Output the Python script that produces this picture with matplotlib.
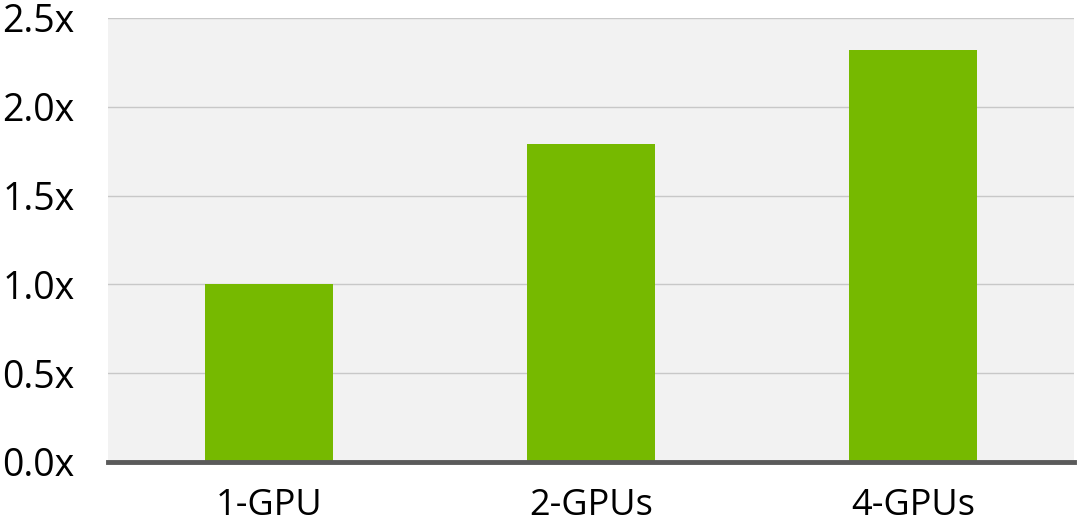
import matplotlib
matplotlib.use("Agg")
import matplotlib.pyplot as plt
from matplotlib.ticker import FuncFormatter

categories = ["1-GPU", "2-GPUs", "4-GPUs"]
speedup = [1.0, 1.79, 2.32]
yticks = [0.0, 0.5, 1.0, 1.5, 2.0, 2.5]

plt.rcParams['font.family'] = ['Open Sans', 'DejaVu Sans']

fig = plt.figure(figsize=(10.8, 5.29), dpi=100)
ax = fig.add_axes([0.1, 0.1267, 0.8944, 0.8393])
ax.set_facecolor('#f2f2f2')

x = list(range(len(categories)))
ax.bar(x, speedup, width=0.4, color='#76b900', zorder=3)

ax.set_xlim(-0.5, 2.5)
ax.set_ylim(0, 2.5)
ax.set_yticks(yticks)
ax.yaxis.set_major_formatter(FuncFormatter(lambda v, p: f"{v:.1f}x"))
ax.set_xticks(x)
ax.set_xticklabels(categories)

ax.grid(axis='y', color='#c8c8c8', linewidth=1.0, zorder=0)
for s in ['top', 'right', 'left']:
    ax.spines[s].set_visible(False)
ax.spines['bottom'].set_color('#5a5a5a')
ax.spines['bottom'].set_linewidth(3.5)
ax.spines['bottom'].set_zorder(5)
ax.tick_params(axis='both', length=0, colors='black')
ax.tick_params(axis='y', pad=24, labelsize=27)
ax.tick_params(axis='x', pad=19, labelsize=26)

fig.savefig("out.png", dpi=100)
